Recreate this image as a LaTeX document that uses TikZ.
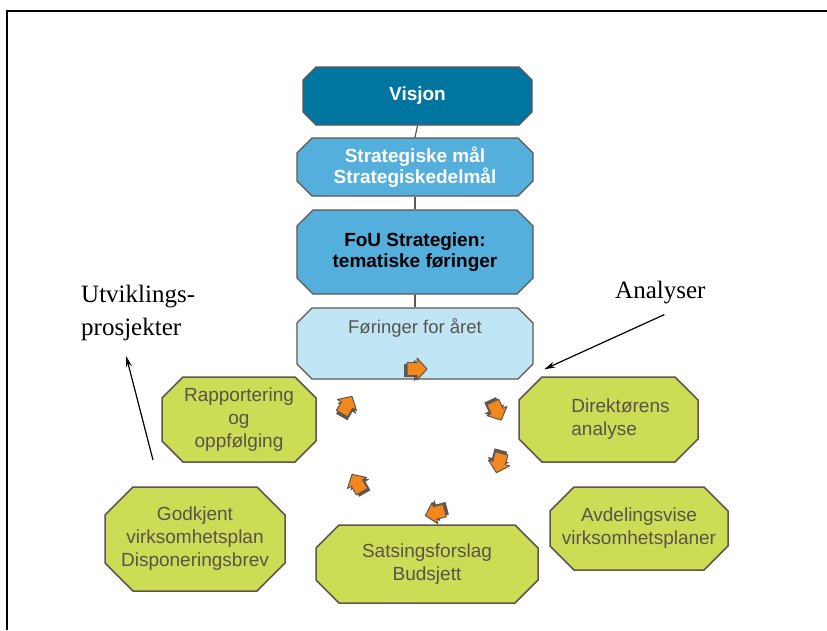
\documentclass[tikz,border=0pt]{standalone}
\usepackage{fontspec}
\setmainfont{Liberation Sans}
\newfontfamily\serifface{Liberation Serif}
\usetikzlibrary{arrows.meta}
\definecolor{visjonblue}{RGB}{0,117,160}
\definecolor{midblue}{RGB}{85,175,220}
\definecolor{lightblue}{RGB}{192,230,246}
\definecolor{limegreen}{RGB}{205,220,85}
\definecolor{edgegray}{RGB}{95,86,80}
\definecolor{textgray}{RGB}{90,82,76}
\definecolor{arroworange}{RGB}{242,135,30}

% #1 name, #2 style, #3 x1, #4 y1, #5 x2, #6 y2, #7 cut, #8 text
\newcommand{\octo}[8]{%
  \path[#2] ({#3+#7},{#4}) -- ({#5-#7},{#4}) -- ({#5},{#4+#7}) -- ({#5},{#6-#7})
     -- ({#5-#7},{#6}) -- ({#3+#7},{#6}) -- ({#3},{#6-#7}) -- ({#3},{#4+#7}) -- cycle;
  \node[#2, draw=none, fill=none, inner sep=0pt,
        minimum width={(#5-#3)*1pt}, minimum height={(#6-#4)*1pt}]
        (#1) at ({(#3+#5)/2},{(#4+#6)/2}) {#8};
}

% #1 x, #2 y, #3 angle
\newcommand{\flowarrow}[3]{%
  \begin{scope}[shift={(#1,#2)}, rotate=#3]
    \path[fill=edgegray, shift={(-3pt,-1.5pt)}]
      (-10pt,-6.5pt) -- (0pt,-6.5pt) -- (0pt,-11pt) -- (10pt,0pt) -- (0pt,11pt) -- (0pt,6.5pt) -- (-10pt,6.5pt) -- cycle;
    \path[fill=arroworange, draw=edgegray, line width=1pt, line join=round]
      (-10pt,-6.5pt) -- (0pt,-6.5pt) -- (0pt,-11pt) -- (10pt,0pt) -- (0pt,11pt) -- (0pt,6.5pt) -- (-10pt,6.5pt) -- cycle;
  \end{scope}}

\begin{document}
\begin{tikzpicture}[x=1pt, y=-1pt,
  topdark/.style={fill=visjonblue, draw=edgegray, line width=1.2pt, text=white,
                  font=\bfseries\fontsize{19}{21}\selectfont, align=center},
  topmid/.style={fill=midblue, draw=edgegray, line width=1.2pt, text=white,
                  font=\bfseries\fontsize{19}{21}\selectfont, align=center},
  topmidblack/.style={fill=midblue, draw=edgegray, line width=1.2pt, text=black,
                  font=\bfseries\fontsize{19}{21}\selectfont, align=center},
  toplight/.style={fill=lightblue, draw=edgegray, line width=1.2pt, text=textgray,
                  font=\fontsize{18.5}{22}\selectfont, align=center},
  greenbox/.style={fill=limegreen, draw=edgegray, line width=1.5pt, text=textgray,
                  font=\fontsize{19}{23}\selectfont, align=center},
  conn/.style={draw=edgegray, line width=1.2pt},
  callout/.style={-{Stealth[length=11pt,width=6pt]}, line width=1.2pt, draw=black},
  annot/.style={font=\serifface\fontsize{25}{33}\selectfont, align=left, inner sep=0pt, text=black}]

\useasboundingbox (0,0) rectangle (827,630);
\fill[white] (0,0) rectangle (827,630);

% frame
\draw[line width=2pt] (7,630) -- (7,11) -- (827,11);

% top stack
\octo{visjon}{topdark}{303}{67}{532}{125}{13}{Visjon}
\octo{strat}{topmid}{297}{138}{533}{196}{15}{Strategiske mål\\Strategiskedelmål}
\octo{fou}{topmidblack}{297}{210}{533}{294}{16}{FoU Strategien:\\tematiske føringer}
\octo{foringer}{toplight}{297}{308}{533}{379}{15}{\raisebox{10pt}[0pt][0pt]{Føringer for året}}

\draw[conn] (visjon.south) -- (strat.north);
\draw[conn] (strat.south) -- (fou.north);
\draw[conn] (fou.south) -- (foringer.north);

% cycle boxes
\octo{rapport}{greenbox}{162}{377}{316}{462}{21}{Rapportering\\og\\oppfølging}
\octo{direk}{greenbox}{519}{377}{698}{462}{23}{\begin{tabular}{@{}l@{}}Direktørens\\analyse\end{tabular}\hspace*{-24pt}}
\octo{godkj}{greenbox}{105}{487}{285}{591}{28}{Godkjent\\virksomhetsplan\\Disponeringsbrev}
\octo{sats}{greenbox}{316}{525}{538}{603}{23}{Satsingsforslag\\Budsjett}
\octo{avdel}{greenbox}{550}{487}{728}{570}{24}{Avdelingsvise\\virksomhetsplaner}

% cycle arrows
\flowarrow{417}{369}{0}
\flowarrow{347}{405}{60}
\flowarrow{497}{411}{-65}
\flowarrow{499}{463}{-105}
\flowarrow{435}{513}{-165}
\flowarrow{357}{483}{120}

% annotations
\node[annot, anchor=north west] (utv) at (81,285) {Utviklings-\\prosjekter};
\node[annot, anchor=base west] (analyser) at (615,298) {Analyser};
\coordinate (utvtail) at (153,460);
\draw[callout] (utvtail) -- ([xshift=-12pt,yshift=-15pt]utv.south);
\draw[callout] ([xshift=4pt,yshift=-11pt]analyser.south) -- ([xshift=26pt,yshift=7pt]direk.north west);
\end{tikzpicture}
\end{document}
